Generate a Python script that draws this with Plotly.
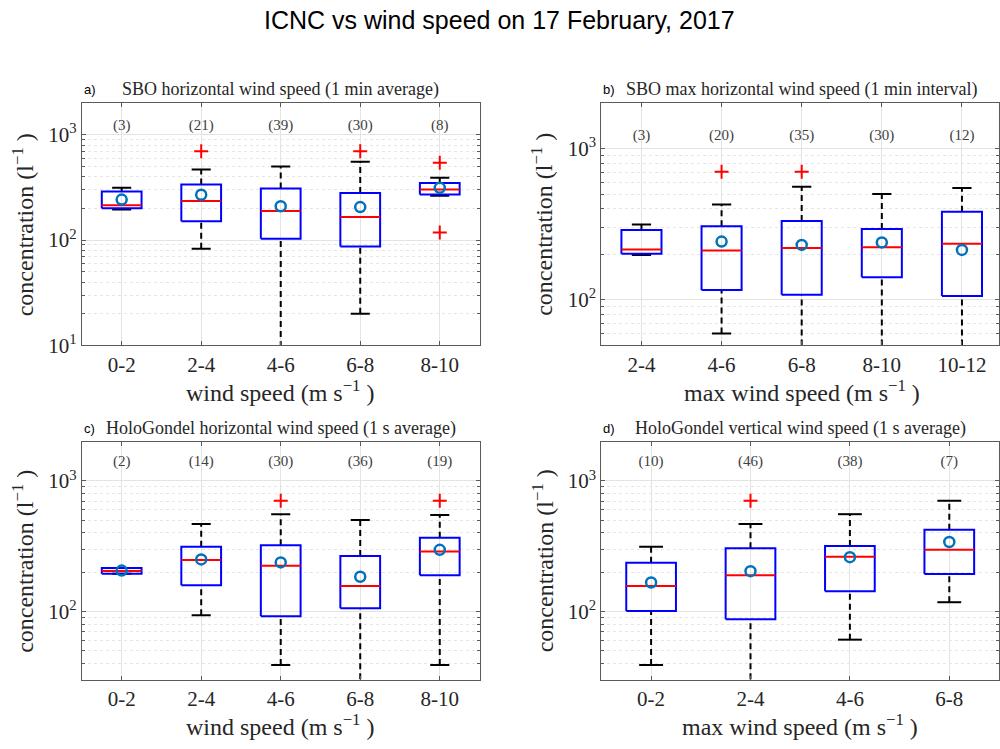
import plotly.graph_objects as go

# ---------------- data ----------------
# panel a: SBO horizontal wind speed (1 min average)
a_cats = ["0-2", "2-4", "4-6", "6-8", "8-10"]
a_n = [3, 21, 39, 30, 8]
a_wlo = [196, 83, 5, 20, 264]
a_q1 = [201, 151, 103, 87, 272]
a_med = [215, 236, 189, 166, 303]
a_q3 = [290, 337, 310, 280, 349]
a_whi = [314, 469, 500, 556, 392]
a_mean = [243, 270, 210, 206, 314]
a_out = [[], [700], [], [700], [544, 118]]

# panel b: SBO max horizontal wind speed (1 min interval)
b_cats = ["2-4", "4-6", "6-8", "8-10", "10-12"]
b_n = [3, 20, 35, 30, 12]
b_wlo = [198, 60, 20, 20, 20]
b_q1 = [202, 116, 108, 141, 106]
b_med = [215, 212, 220, 223, 235]
b_q3 = [290, 307, 333, 294, 382]
b_whi = [315, 428, 561, 502, 550]
b_mean = [None, 243, 231, 240, 214]
b_out = [[], [705], [705], [], []]

# panel c: HoloGondel horizontal wind speed (1 s average)
c_cats = ["0-2", "2-4", "4-6", "6-8", "8-10"]
c_n = [2, 14, 30, 36, 19]
c_wlo = [195, 94, 39, 15, 39]
c_q1 = [195, 159, 92, 106, 190]
c_med = [205, 248, 224, 157, 288]
c_q3 = [216, 314, 322, 266, 367]
c_whi = [216, 469, 557, 502, 548]
c_mean = [206, 251, 238, 185, 297]
c_out = [[], [], [706], [], [706]]

# panel d: HoloGondel vertical wind speed (1 s average)
d_cats = ["0-2", "2-4", "4-6", "6-8"]
d_n = [10, 46, 38, 7]
d_wlo = [39, 15, 61, 118]
d_q1 = [101, 87.5, 143, 194]
d_med = [157, 190, 263, 298]
d_q3 = [237, 305, 318, 423]
d_whi = [314, 469, 557, 706]
d_mean = [167, 204, 261, 341]
d_out = [[], [706], [], []]

y_tick_vals = [10, 100, 1000]
y_tick_text = ["10<sup>1</sup>", "10<sup>2</sup>", "10<sup>3</sup>"]

panels = [
    dict(cats=a_cats, n=a_n, wlo=a_wlo, q1=a_q1, med=a_med, q3=a_q3, whi=a_whi, mean=a_mean, out=a_out,
         yr=[1, 3.3], ny=1200, label="a)", title="SBO horizontal wind speed (1 min average)",
         xtitle="wind speed (m s<sup>−1</sup> )"),
    dict(cats=b_cats, n=b_n, wlo=b_wlo, q1=b_q1, med=b_med, q3=b_q3, whi=b_whi, mean=b_mean, out=b_out,
         yr=[1.699, 3.3], ny=1200, label="b)", title="SBO max horizontal wind speed (1 min interval)",
         xtitle="max wind speed (m s<sup>−1</sup> )"),
    dict(cats=c_cats, n=c_n, wlo=c_wlo, q1=c_q1, med=c_med, q3=c_q3, whi=c_whi, mean=c_mean, out=c_out,
         yr=[1.477, 3.3], ny=1400, label="c)", title="HoloGondel horizontal wind speed (1 s average)",
         xtitle="wind speed (m s<sup>−1</sup> )"),
    dict(cats=d_cats, n=d_n, wlo=d_wlo, q1=d_q1, med=d_med, q3=d_q3, whi=d_whi, mean=d_mean, out=d_out,
         yr=[1.477, 3.3], ny=1400, label="d)", title="HoloGondel vertical wind speed (1 s average)",
         xtitle="max wind speed (m s<sup>−1</sup> )"),
]

# ---------------- layout geometry ----------------
W, H = 1000, 749
# pixel boxes (left, right, top, bottom)
boxes = [(82, 480, 105, 351), (602, 1000, 105, 351), (82, 480, 449, 691), (602, 1000, 449, 691)]
xranges = [[0.5, 5.5], [0.5, 5.5 - 3 / 80.0], [0.5, 5.5], [0.5, 4.5]]

SERIF = "Liberation Serif"
SANS = "Liberation Sans"
BLUE = "#0000ff"
RED = "#ff0000"
MEANC = "rgb(0,114,189)"
TXT = "#262626"

fig = go.Figure()
annotations = []
layout = {}

for i, p in enumerate(panels):
    k = "" if i == 0 else str(i + 1)
    xa, ya = "x" + k, "y" + k
    L, R, T, B = boxes[i]
    m = len(p["cats"])
    xs = list(range(1, m + 1))
    bw, cw = 0.25, 0.12

    # dashed whiskers
    wx, wy = [], []
    for j, x in enumerate(xs):
        wx += [x, x, None, x, x, None]
        wy += [p["wlo"][j], p["q1"][j], None, p["q3"][j], p["whi"][j], None]
    fig.add_trace(go.Scatter(x=wx, y=wy, mode="lines", line=dict(color="black", width=2, dash="6px,4px"),
                             xaxis=xa, yaxis=ya, showlegend=False, hoverinfo="skip"))
    # caps
    cx, cy = [], []
    for j, x in enumerate(xs):
        cx += [x - cw, x + cw, None, x - cw, x + cw, None]
        cy += [p["wlo"][j], p["wlo"][j], None, p["whi"][j], p["whi"][j], None]
    fig.add_trace(go.Scatter(x=cx, y=cy, mode="lines", line=dict(color="black", width=2),
                             xaxis=xa, yaxis=ya, showlegend=False, hoverinfo="skip"))
    # boxes
    bx, by = [], []
    for j, x in enumerate(xs):
        bx += [x - bw, x + bw, x + bw, x - bw, x - bw, None]
        by += [p["q1"][j], p["q1"][j], p["q3"][j], p["q3"][j], p["q1"][j], None]
    fig.add_trace(go.Scatter(x=bx, y=by, mode="lines", line=dict(color=BLUE, width=2),
                             xaxis=xa, yaxis=ya, showlegend=False, hoverinfo="skip"))
    # medians
    mx, my = [], []
    for j, x in enumerate(xs):
        mx += [x - bw, x + bw, None]
        my += [p["med"][j], p["med"][j], None]
    fig.add_trace(go.Scatter(x=mx, y=my, mode="lines", line=dict(color=RED, width=2),
                             xaxis=xa, yaxis=ya, showlegend=False, hoverinfo="skip"))
    # outliers
    ox, oy = [], []
    for j, x in enumerate(xs):
        for v in p["out"][j]:
            ox.append(x)
            oy.append(v)
    fig.add_trace(go.Scatter(x=ox, y=oy, mode="markers",
                             marker=dict(symbol="cross-thin", size=10, line=dict(color=RED, width=2)),
                             xaxis=xa, yaxis=ya, showlegend=False, hoverinfo="skip"))
    # means
    fig.add_trace(go.Scatter(x=xs, y=p["mean"], mode="markers",
                             marker=dict(symbol="circle-open", size=10, color=MEANC, line=dict(color=MEANC, width=2.5)),
                             xaxis=xa, yaxis=ya, showlegend=False, hoverinfo="skip"))
    # counts
    fig.add_trace(go.Scatter(x=xs, y=[p["ny"]] * m, mode="text", text=["(%d)" % v for v in p["n"]],
                             textfont=dict(family=SERIF, size=15, color="#404040"),
                             xaxis=xa, yaxis=ya, showlegend=False, hoverinfo="skip"))

    xdom = [L / W, R / W]
    ydom = [1 - B / H, 1 - T / H]
    layout["xaxis" + k] = dict(domain=xdom, anchor=ya, range=xranges[i], tickvals=xs, ticktext=p["cats"],
                               showgrid=True, gridcolor="#e3e3e3", gridwidth=1, zeroline=False,
                               showline=True, linecolor="#5a5a5a", linewidth=1, mirror="ticks",
                               ticks="inside", ticklen=4, tickcolor="#5a5a5a",
                               tickfont=dict(family=SERIF, size=21, color=TXT))
    layout["yaxis" + k] = dict(domain=ydom, anchor=xa, type="log", range=p["yr"],
                               tickmode="array", tickvals=y_tick_vals, ticktext=y_tick_text,
                               showgrid=True, gridcolor="#e3e3e3", gridwidth=1,
                               zeroline=False, showline=True, linecolor="#5a5a5a", linewidth=1, mirror="ticks",
                               ticks="inside", ticklen=4, tickcolor="#5a5a5a",
                               tickfont=dict(family=SERIF, size=21, color=TXT),
                               minor=dict(dtick="D1", ticks="inside", ticklen=3, tickcolor="#5a5a5a",
                                          showgrid=True, gridcolor="#e6e6e6", griddash="dot", gridwidth=1))

    cxp = ((L + (L + m * (R - L) / (xranges[i][1] - xranges[i][0]))) / 2) / W
    # panel label and title
    annotations.append(dict(text=p["label"], x=L / W, y=1 - (T - 14) / H, xref="paper", yref="paper",
                            xanchor="left", yanchor="middle", showarrow=False,
                            font=dict(family=SANS, size=13, color="black")))
    annotations.append(dict(text=p["title"], x=cxp, y=1 - (T - 14) / H, xref="paper", yref="paper",
                            xanchor="center", yanchor="middle", showarrow=False,
                            font=dict(family=SERIF, size=18, color=TXT)))
    # axis titles
    annotations.append(dict(text=p["xtitle"], x=cxp, y=1 - (B + 46) / H, xref="paper", yref="paper",
                            xanchor="center", yanchor="middle", showarrow=False,
                            font=dict(family=SERIF, size=24, color=TXT)))
    annotations.append(dict(text="concentration (l<sup>−1</sup> )", x=(L - 59) / W, y=1 - ((T + B) / 2) / H,
                            xref="paper", yref="paper", xanchor="center", yanchor="middle",
                            textangle=-90, showarrow=False,
                            font=dict(family=SERIF, size=24, color=TXT)))

annotations.append(dict(text="ICNC vs wind speed on 17 February, 2017", x=0.5, y=1 - 20 / H,
                        xref="paper", yref="paper", xanchor="center", yanchor="middle", showarrow=False,
                        font=dict(family=SANS, size=25, color="black")))

fig.update_layout(width=W, height=H, margin=dict(l=0, r=0, t=0, b=0, pad=0),
                  paper_bgcolor="white", plot_bgcolor="white", annotations=annotations, **layout)

fig.write_html("out.html")
